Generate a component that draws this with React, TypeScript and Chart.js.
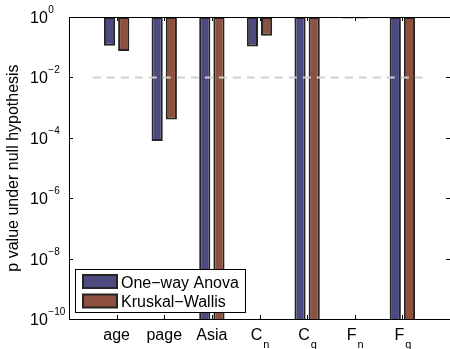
import React, { useEffect, useRef } from 'react';
import { Chart, registerables } from 'chart.js';

Chart.register(...registerables);

// ---- data ----
const categoryBase = ['age', 'page', 'Asia', 'C', 'C', 'F', 'F'];
const categorySub = ['', '', '', 'n', 'q', 'n', 'q'];
const categoryPositions = [1, 2, 3, 4, 5, 6, 7];
const anovaValues = [0.112, 7.9e-5, 1e-14, 0.105, 1e-14, 0.9, 1e-14];
const kruskalValues = [0.075, 4.0e-4, 1e-14, 0.24, 1e-14, 0.9, 1e-14];
const seriesLabels = ['One\u2212way Anova', 'Kruskal\u2212Wallis'];
const yTickExponents = [0, -2, -4, -6, -8, -10];
const thresholdValue = 0.01;
const thresholdRange = [0.5, 7.5];
const barTop = 1;
const xRange = [0, 8];
const yRange = [1e-10, 1];
const yTitle = 'p value under null hypothesis';

const purple = '#4C4A7E';
const brown = '#8E513F';
const edge = '#242424';
const FONT = '"Liberation Sans", Arial, Helvetica, sans-serif';

const matlabAxes = {
  id: 'matlabAxes',
  afterDraw(chart: any) {
    const { ctx, chartArea: a, scales } = chart;
    const xs = scales.x;
    const ys = scales.y;
    ctx.save();
    // box
    ctx.strokeStyle = '#000';
    ctx.lineWidth = 1;
    ctx.beginPath();
    ctx.moveTo(a.left + 0.5, a.top + 0.5);
    ctx.lineTo(a.right + 0.5, a.top + 0.5);
    ctx.moveTo(a.left + 0.5, a.top);
    ctx.lineTo(a.left + 0.5, a.bottom + 0.5);
    ctx.lineTo(a.right + 0.5, a.bottom + 0.5);
    ctx.lineTo(a.right + 0.5, a.top);
    ctx.stroke();

    const tl = 4;
    // x ticks
    ctx.beginPath();
    categoryPositions.forEach((p) => {
      const px = Math.round(xs.getPixelForValue(p)) + 0.5;
      ctx.moveTo(px, a.bottom);
      ctx.lineTo(px, a.bottom - tl);
      ctx.moveTo(px, a.top);
      ctx.lineTo(px, a.top + tl);
    });
    // y ticks
    yTickExponents.forEach((e) => {
      const py = Math.round(ys.getPixelForValue(Math.pow(10, e))) + 0.5;
      ctx.moveTo(a.left, py);
      ctx.lineTo(a.left + tl, py);
      ctx.moveTo(a.right, py);
      ctx.lineTo(a.right - tl, py);
    });
    ctx.stroke();

    ctx.fillStyle = '#000';
    // y tick labels
    yTickExponents.forEach((e) => {
      const py = ys.getPixelForValue(Math.pow(10, e));
      ctx.font = `16px ${FONT}`;
      ctx.textAlign = 'left';
      ctx.textBaseline = 'alphabetic';
      ctx.fillText('10', 30, py + 6);
      const w = ctx.measureText('10').width;
      ctx.font = `10px ${FONT}`;
      const ex = e === 0 ? '0' : '\u2212' + String(Math.abs(e));
      ctx.fillText(ex, 30 + w + 0.5, py - 4);
    });

    // x tick labels
    categoryPositions.forEach((p, i) => {
      const px = xs.getPixelForValue(p);
      ctx.font = `16px ${FONT}`;
      const wb = ctx.measureText(categoryBase[i]).width;
      ctx.font = `11px ${FONT}`;
      const ws = categorySub[i] ? ctx.measureText(categorySub[i]).width : 0;
      const start = px - (wb + ws) / 2;
      ctx.textAlign = 'left';
      ctx.textBaseline = 'alphabetic';
      ctx.font = `16px ${FONT}`;
      ctx.fillText(categoryBase[i], start, 340);
      if (categorySub[i]) {
        ctx.font = `11px ${FONT}`;
        ctx.fillText(categorySub[i], start + wb + 1, 348);
      }
    });

    // y title
    ctx.save();
    ctx.translate(14, (a.top + a.bottom) / 2);
    ctx.rotate(-Math.PI / 2);
    ctx.font = `16px ${FONT}`;
    ctx.textAlign = 'center';
    ctx.textBaseline = 'middle';
    ctx.fillText(yTitle, 0, 0);
    ctx.restore();

    // legend
    const bars = chart.data.datasets.filter((d: any) => d.type !== 'line');
    const lx = 75.5, ly = 269.5, lw = 170, lh = 43;
    ctx.fillStyle = '#fff';
    ctx.fillRect(lx, ly, lw, lh);
    ctx.strokeStyle = '#000';
    ctx.lineWidth = 1;
    ctx.strokeRect(lx, ly, lw, lh);
    bars.forEach((d: any, i: number) => {
      const sy = 275 + i * 19.5;
      ctx.fillStyle = d.backgroundColor;
      ctx.fillRect(83, sy, 34, 13);
      ctx.strokeStyle = edge;
      ctx.lineWidth = 2;
      ctx.strokeRect(83, sy, 34, 13);
      ctx.fillStyle = '#000';
      ctx.font = `16px ${FONT}`;
      ctx.textAlign = 'left';
      ctx.textBaseline = 'alphabetic';
      ctx.fillText(d.label, 121, sy + 12.5);
    });
    ctx.restore();
  },
};

export default function App() {
  const ref = useRef<HTMLCanvasElement>(null);
  useEffect(() => {
    document.body.style.margin = '0';
    const chart = new Chart(ref.current as HTMLCanvasElement, {
      type: 'bar',
      data: {
        datasets: [
          {
            type: 'line',
            label: 'threshold',
            data: thresholdRange.map((x) => ({ x, y: thresholdValue })),
            borderColor: '#cfcfcf',
            borderWidth: 2,
            borderDash: [8, 6],
            pointRadius: 0,
            order: 0,
          } as any,
          {
            label: seriesLabels[0],
            data: categoryPositions.map((x, i) => ({ x, y: [anovaValues[i], barTop] })),
            backgroundColor: purple,
            borderColor: edge,
            borderWidth: 2,
            borderSkipped: false,
            categoryPercentage: 0.595,
            barPercentage: 0.79,
            order: 1,
          },
          {
            label: seriesLabels[1],
            data: categoryPositions.map((x, i) => ({ x, y: [kruskalValues[i], barTop] })),
            backgroundColor: brown,
            borderColor: edge,
            borderWidth: 2,
            borderSkipped: false,
            categoryPercentage: 0.595,
            barPercentage: 0.79,
            order: 1,
          },
        ],
      },
      options: {
        animation: false,
        responsive: false,
        maintainAspectRatio: false,
        layout: { padding: { left: 69, top: 17, right: -1, bottom: 30 } },
        plugins: { legend: { display: false }, tooltip: { enabled: false } },
        scales: {
          x: { type: 'linear', min: xRange[0], max: xRange[1], offset: false, display: false },
          y: { type: 'logarithmic', min: yRange[0], max: yRange[1], display: false },
        },
      },
      plugins: [matlabAxes],
    } as any);
    return () => chart.destroy();
  }, []);
  return (
    <div style={{ width: 450, height: 349 }}>
      <canvas ref={ref} width={450} height={349} style={{ display: 'block' }} />
    </div>
  );
}
